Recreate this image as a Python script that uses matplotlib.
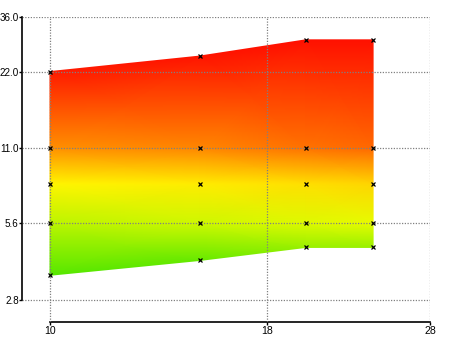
import matplotlib
matplotlib.use("Agg")
import matplotlib.pyplot as plt
import numpy as np
from matplotlib.colors import LinearSegmentedColormap

# x positions of the sample columns
xs = [10, 15, 20, 24]
# rows: lower edge, three inner levels, upper edge
lower = [3.5, 4.0, 4.5, 4.5]
row_56 = [5.6, 5.6, 5.6, 5.6]
row_8 = [8.0, 8.0, 8.0, 8.0]
row_11 = [11.0, 11.0, 11.0, 11.0]
upper = [22.0, 25.3, 29.3, 29.3]

# colour level (0 = green, 0.5 = yellow, 1 = red) at each point
lvl_lower = [0.02, 0.07, 0.21, 0.21]
lvl_56 = [0.31, 0.36, 0.41, 0.43]
lvl_8 = [0.52, 0.54, 0.57, 0.59]
lvl_11 = [0.74, 0.76, 0.80, 0.82]
lvl_upper = [0.98, 0.99, 1.0, 1.0]

xticks = [10, 18, 28]
xticklabels = ["10", "18", "28"]
yticks = [2.8, 5.6, 11.0, 22.0, 36.0]
yticklabels = ["2.8", "5.6", "11.0", "22.0", "36.0"]

cmap = LinearSegmentedColormap.from_list(
    "grad", [(0.0, "#4ee600"), (0.5, "#ffff00"), (0.75, "#ff8c00"), (1.0, "#ff1000")])

plt.rcParams['font.family'] = ['Liberation Sans', 'DejaVu Sans']
fig = plt.figure(figsize=(4.5, 3.37), dpi=100)
ax = fig.add_axes([22 / 450, 15 / 337, 408 / 450, 305 / 337])

X = np.array([xs] * 5, dtype=float)
Y = np.array([lower, row_56, row_8, row_11, upper])
C = np.array([lvl_lower, lvl_56, lvl_8, lvl_11, lvl_upper])

ax.set_xscale('log')
ax.set_yscale('log')
ax.pcolormesh(X, Y, C, shading='gouraud', cmap=cmap, vmin=0, vmax=1, zorder=1)
ax.plot(X.ravel(), Y.ravel(), 'x', color='black', ms=3, mew=0.9, zorder=3)

ax.set_xlim(9.27, 28)
ax.set_ylim(2.296, 36)

ax.minorticks_off()
ax.set_xticks(xticks)
ax.set_xticklabels(xticklabels)
ax.set_yticks(yticks)
ax.set_yticklabels(yticklabels)
ax.tick_params(direction='out', length=2, width=1, labelsize=7.6, pad=0.6, colors='black')
ax.tick_params(axis='y', labelsize=7.1, pad=0.4)

ax.grid(True, color='#808080', linestyle=(0, (1, 1.2)), linewidth=0.9, zorder=2)
ax.set_axisbelow(False)

for s in ['top', 'right']:
    ax.spines[s].set_visible(False)
ax.spines['left'].set_bounds(2.8, 36)
ax.spines['bottom'].set_bounds(10, 28)
ax.spines['left'].set_linewidth(1.2)
ax.spines['bottom'].set_linewidth(1.2)

fig.savefig("out.png", dpi=100)
